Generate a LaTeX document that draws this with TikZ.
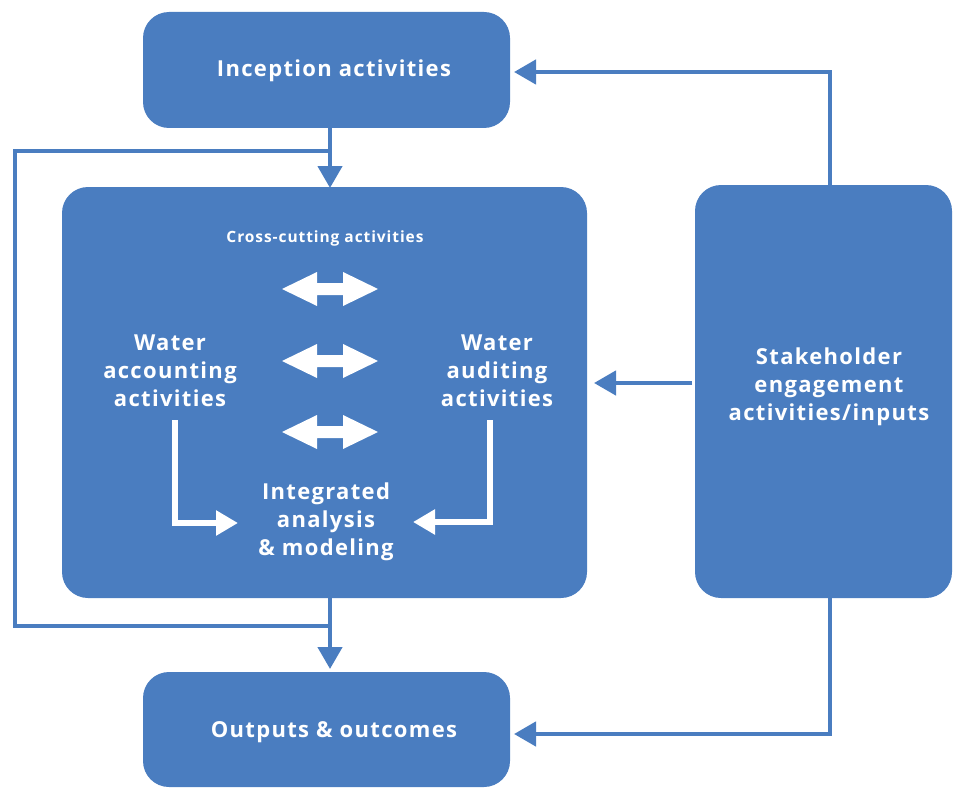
\documentclass[tikz,border=0pt]{standalone}
\usepackage{fontspec}
\setmainfont{Open Sans}
\usetikzlibrary{arrows.meta}
\definecolor{wblue}{RGB}{74,125,192}
\newfontfamily\lblfont[LetterSpace=6]{Open Sans}
\tikzset{
  box/.style={fill=wblue, draw=none, rounded corners=26pt, inner sep=0pt},
  lbl/.style={text=white, font=\lblfont\bfseries\fontsize{22}{28}\selectfont, align=center},
  small/.style={text=white, font=\lblfont\bfseries\fontsize{15.5}{18}\selectfont, align=center},
  conn/.style={draw=wblue, line width=4.5pt, -{Triangle[width=24pt,length=22pt]}},
  plain/.style={draw=wblue, line width=4.5pt},
  inner/.style={draw=white, line width=6pt, -{Triangle[width=24pt,length=22pt]}},
  darrow/.style={fill=white, draw=none}
}
\newcommand{\dblarrow}[1]{%
  \fill[darrow] ([shift={(-48,0)}]#1) -- ([shift={(-13,-17)}]#1) -- ([shift={(-13,-6)}]#1)
    -- ([shift={(13,-6)}]#1) -- ([shift={(13,-17)}]#1) -- ([shift={(48,0)}]#1)
    -- ([shift={(13,17)}]#1) -- ([shift={(13,6)}]#1) -- ([shift={(-13,6)}]#1)
    -- ([shift={(-13,17)}]#1) -- cycle;}
\begin{document}
\begin{tikzpicture}[x=1pt,y=-1pt]
\useasboundingbox (0,0) rectangle (953,789);
% boxes
\path[box] (143,12) rectangle (510,128);
\path[box] (62,187) rectangle (587,598);
\path[box] (695,185) rectangle (952,598);
\path[box] (143,672) rectangle (510,787);
\node[lbl] (inct) at (334,71) {Inception activities};
\node[lbl] (outt) at (334,732) {Outputs \& outcomes};
\node[lbl] (stk) at (829,387) {Stakeholder\\engagement\\activities/inputs};
\node[small] (cross) at (325,238) {Cross-cutting activities};
\node[lbl] (wacc) at (170,371) {Water\\accounting\\activities};
\node[lbl] (waud) at (497,371) {Water\\auditing\\activities};
\node[lbl] (int) at (326,522) {Integrated\\analysis\\\& modeling};
% double arrows
\coordinate (d1) at (330,289);
\coordinate (d2) at (330,361);
\coordinate (d3) at (330,432);
\dblarrow{d1}\dblarrow{d2}\dblarrow{d3}
% coordinates
\coordinate (incB) at (330,128);
\coordinate (mainT) at (330,188);
\coordinate (mainB) at (330,598);
\coordinate (outT) at (330,669);
\coordinate (jTop) at (330,151);
\coordinate (jBot) at (330,626);
\coordinate (stkT) at (830,185);
\coordinate (stkB) at (830,598);
\coordinate (incR) at (514,72);
\coordinate (outR) at (514,734);
\coordinate (stkL) at (692,383);
\coordinate (mainR) at (594,383);
% connectors
\draw[conn] (incB) -- (mainT);
\draw[conn] (mainB) -- (outT);
\draw[plain] (jTop) -- (15,151) -- (15,626) -- (jBot);
\draw[conn] (stkT) -- (830,72) -- (incR);
\draw[conn] (stkB) -- (830,734) -- (outR);
\draw[conn] (stkL) -- (mainR);
% inner arrows
\coordinate (accS) at (175,420);
\coordinate (accE) at (238,523);
\coordinate (audS) at (490,420);
\coordinate (audE) at (413,522);
\draw[inner] (accS) |- (accE);
\draw[inner] (audS) |- (audE);
\end{tikzpicture}
\end{document}
